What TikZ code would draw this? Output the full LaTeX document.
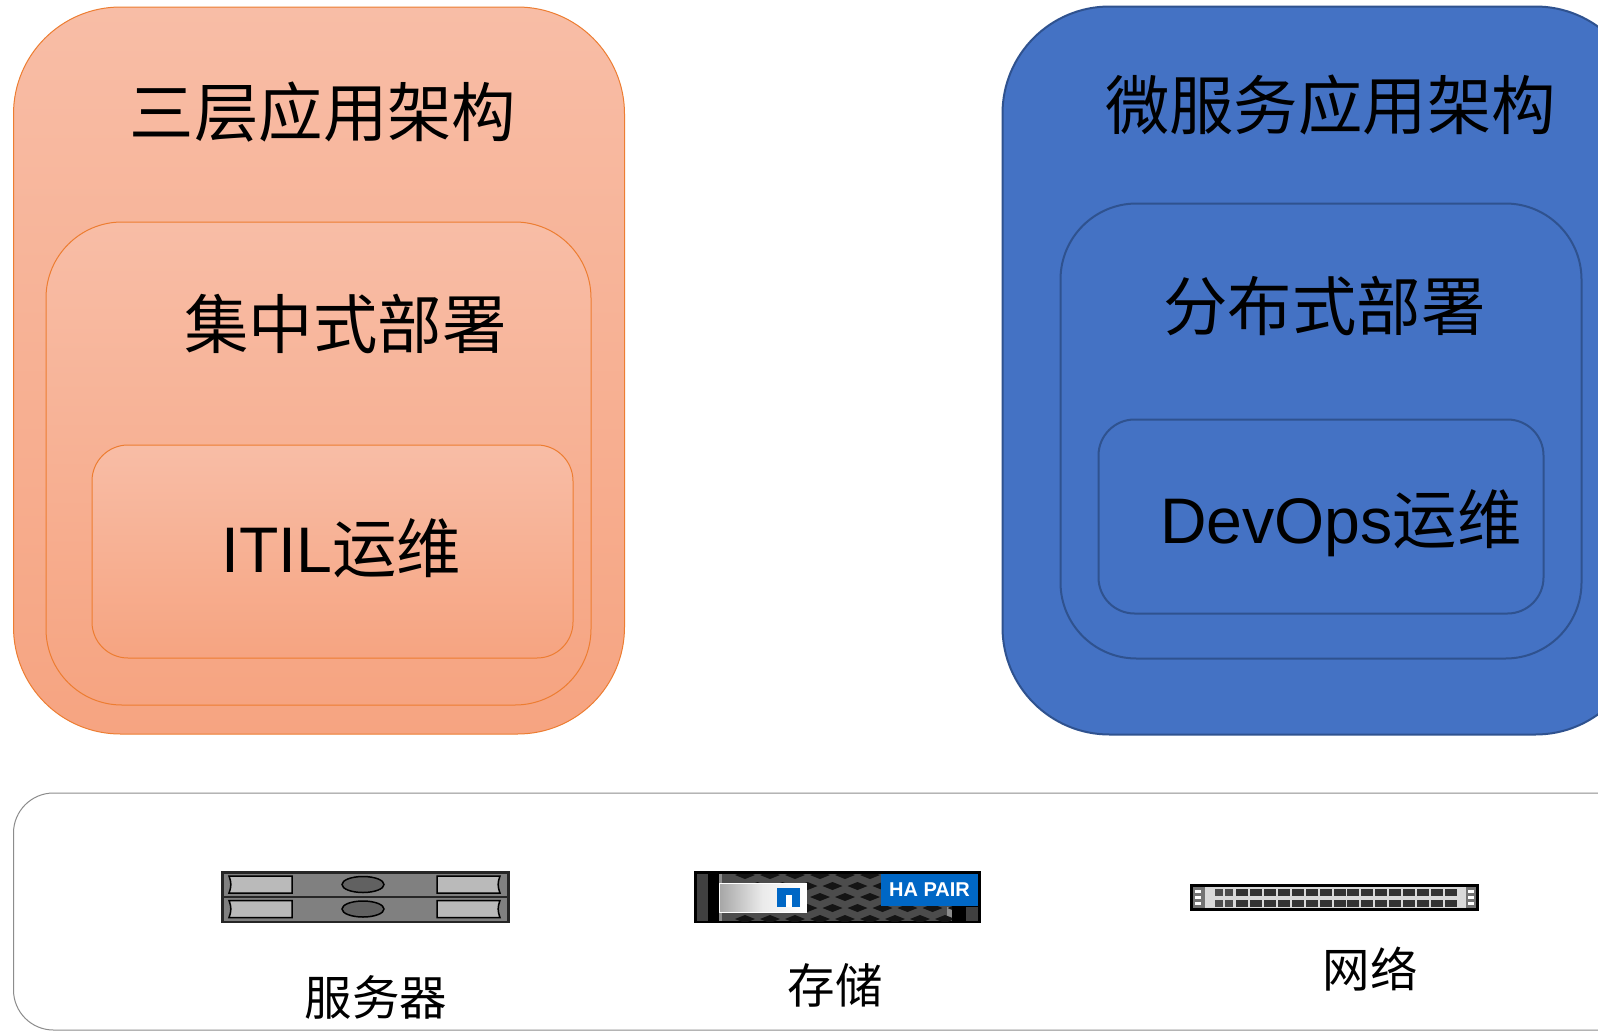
\documentclass[tikz,border=0pt]{standalone}
\usepackage{fontspec}
\setmainfont{Liberation Sans}
\newfontfamily\cjk{Noto Sans CJK SC}
\definecolor{peachtop}{HTML}{F8BDA6}
\definecolor{peachlow}{HTML}{F6A481}
\definecolor{peachline}{HTML}{ED7D31}
\definecolor{bluefill}{HTML}{4472C4}
\definecolor{blueline}{HTML}{2F528F}
\definecolor{netapp}{HTML}{0067C5}
\tikzset{
    panel/.style={rectangle, anchor=north west, inner sep=0pt, line width=1pt},
    peach/.style={panel, draw=peachline, top color=peachtop, bottom color=peachlow},
    blue/.style={panel, draw=blueline, line width=2pt, fill=bluefill},
    big/.style={inner sep=0pt, font=\fontsize{64.4}{70}\selectfont\cjk},
    bigmixed/.style={inner sep=0pt, font=\fontsize{64.4}{70}\selectfont},
    small/.style={inner sep=0pt, font=\fontsize{47.5}{52}\selectfont\cjk},
}
\begin{document}
\begin{tikzpicture}[x=1pt, y=-1pt]
    \path[use as bounding box, clip] (0,0) rectangle (1598,1031);
    \fill[white] (0,0) rectangle (1598,1031);

    \node[peach, rounded corners=107pt, minimum width=611pt, minimum height=727pt] (outerleft) at (13,6.5) {};
    \node[peach, rounded corners=76pt, minimum width=545pt, minimum height=483pt] (midleft) at (45.5,221.5) {};
    \node[peach, rounded corners=36pt, minimum width=481pt, minimum height=213pt] (innerleft) at (91.5,444.5) {};

    \node[blue, rounded corners=107pt, minimum width=640pt, minimum height=728pt] (outerright) at (1001.5,5.5) {};
    \node[blue, rounded corners=76pt, minimum width=521pt, minimum height=455pt] (midright) at (1059.5,202.5) {};
    \node[blue, rounded corners=36pt, minimum width=445pt, minimum height=194pt] (innerright) at (1097.5,418.5) {};

    \node[panel, draw=black!45, fill=white, rounded corners=40pt, minimum width=1640pt, minimum height=237pt] (base) at (13,792.5) {};

    \node[big] (threetier) at (323,112) {三层应用架构};
    \node[big] (central) at (345.5,324) {集中式部署};
    \node[bigmixed] (itil) at (341,548) {ITIL{\cjk 运维}};
    \node[big] (micro) at (1330.5,105) {微服务应用架构};
    \node[big] (distributed) at (1324.5,306) {分布式部署};
    \node[bigmixed] (devops) at (1341,523) {DevOps{\cjk 运维}};
    \node[small] (serverlabel) at (376,997) {服务器};
    \node[small] (storagelabel) at (835,985) {存储};
    \node[small] (networklabel) at (1370,969) {网络};

    % server
    \fill[black!85] (221,871) rectangle (510,923);
    \foreach \row in {0,24.5} {
        \fill[black!50] (224,873.5+\row) rectangle (507,896+\row);
        \draw[line width=1.5pt, fill=black!27] (229,876+\row) to[bend left=22] (229,893+\row) -- (292,893+\row) -- (292,876+\row) -- cycle;
        \draw[line width=1.5pt, fill=black!27] (500,876+\row) to[bend right=22] (500,893+\row) -- (437,893+\row) -- (437,876+\row) -- cycle;
        \draw[line width=1.5pt, fill=black!62] (363,884.5+\row) ellipse [x radius=21, y radius=8];
    }

    % storage
    \fill[black] (694,871) rectangle (981,923);
    \fill[black!75] (697,874) rectangle (708,921);
    \fill[black!75] (966,907) rectangle (978,921);
    \begin{scope}
        \clip (719,874) rectangle (952,921);
        \fill[black!70] (719,874) rectangle (952,921);
        \fill[black!45] (947,907) rectangle (952,921);
        \fill[black!45] (719,874) rectangle (722,921);
        \foreach \col in {0,...,8} {
            \foreach \row/\shift in {0/0, 1/12.5, 2/0, 3/12.5, 4/0} {
                \fill[black!92] (735+25*\col+\shift,875+11*\row) -- ++(10,-4) -- ++(10,4) -- ++(-10,4) -- cycle;
            }
        }
    \end{scope}
    \shade[left color=black!35, right color=white, middle color=black!8, draw=white, line width=1pt] (719,883) rectangle (806,912);
    \fill[netapp] (777,888) rectangle (800,907);
    \fill[white] (786,894.5) rectangle (792,907);
    \node[rectangle, fill=netapp, minimum width=97pt, minimum height=32pt, inner sep=0pt, text=white, font=\fontsize{20}{22}\selectfont\bfseries] (hapair) at (929.5,890) {HA PAIR};

    % network
    \fill[black] (1190,884) rectangle (1479,911);
    \fill[black!15] (1193,887) rectangle (1476,908);
    \fill[black!55] (1193,887) rectangle (1205,908);
    \fill[black!55] (1466,887) rectangle (1476,908);
    \foreach \pin in {889.5,895.5,901.5} {
        \fill[white] (1195,\pin) rectangle (1201,\pin+3.5);
        \fill[white] (1468,\pin) rectangle (1474,\pin+3.5);
    }
    \foreach \col in {1215,1224.5} {
        \fill[black!70] (\col,889) rectangle (\col+8,896);
        \fill[black!70] (\col,900) rectangle (\col+8,907);
    }
    \foreach \col in {0,...,15} {
        \fill[black!80] (1236+13.93*\col,889) rectangle (1248+13.93*\col,896);
        \fill[black!80] (1236+13.93*\col,900) rectangle (1248+13.93*\col,907);
    }
\end{tikzpicture}
\end{document}
